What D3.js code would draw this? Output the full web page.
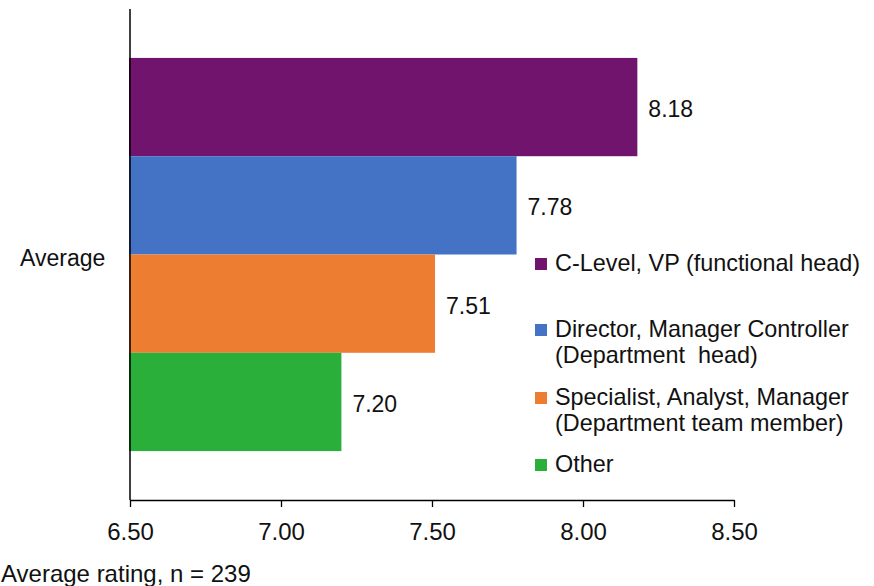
<!DOCTYPE html>
<html>
<head>
<meta charset="utf-8">
<script src="https://cdn.jsdelivr.net/npm/d3@7"></script>
<style>
  html, body { margin: 0; padding: 0; background: #fff; }
  svg text { font-family: "Liberation Sans", Arial, sans-serif; fill: #111; }
</style>
</head>
<body>
<svg id="chart" width="874" height="586"></svg>
<script>
// Average rating by respondent role
const categories = [
  "C-Level, VP (functional head)",
  "Director, Manager Controller (Department  head)",
  "Specialist, Analyst, Manager (Department team member)",
  "Other"
];
const legendLines = [
  ["C-Level, VP (functional head)"],
  ["Director, Manager Controller", "(Department  head)"],
  ["Specialist, Analyst, Manager", "(Department team member)"],
  ["Other"]
];
const values = [8.18, 7.78, 7.51, 7.20];
const colors = ["#70146e", "#4472c4", "#ed7d31", "#2ab03a"];
const tickValues = [6.5, 7.0, 7.5, 8.0, 8.5];
const groupLabel = "Average";
const axisTitle = "Average rating, n = 239";

const FONT = 23;
const svg = d3.select("#chart");

const x = d3.scaleLinear().domain([6.5, 8.5]).range([130, 734]);
const yGroup = d3.scaleBand().domain([groupLabel]).range([9, 500]).paddingInner(0).paddingOuter(0.1);
const y = d3.scaleBand().domain(categories)
  .range([yGroup(groupLabel) + 8, yGroup(groupLabel) + yGroup.bandwidth() + 8 - 16]);

// bars
svg.append("g").selectAll("rect")
  .data(categories)
  .join("rect")
  .attr("x", x(6.5) - 1)
  .attr("y", d => y(d))
  .attr("width", (d, i) => x(values[i]) - x(6.5) + 1)
  .attr("height", y.bandwidth())
  .attr("fill", (d, i) => colors[i]);

// value labels
svg.append("g").selectAll("text")
  .data(categories)
  .join("text")
  .attr("x", (d, i) => x(values[i]) + 11)
  .attr("y", d => y(d) + y.bandwidth() / 2 + 10)
  .attr("font-size", FONT)
  .text((d, i) => values[i].toFixed(2));

// x axis
const xAxis = d3.axisBottom(x)
  .tickValues(tickValues)
  .tickFormat(d3.format(".2f"))
  .tickSize(7)
  .tickSizeOuter(0);
const gx = svg.append("g").attr("transform", "translate(0,500)").call(xAxis);
gx.select(".domain").attr("stroke", "#000").attr("stroke-width", 1.3);
gx.selectAll(".tick line").attr("stroke", "#000").attr("stroke-width", 1.3);
gx.selectAll(".tick text")
  .attr("font-size", 24)
  .attr("font-family", "Liberation Sans, Arial, sans-serif")
  .attr("fill", "#111")
  .attr("dy", null)
  .attr("y", 40);

// y axis line
svg.append("line")
  .attr("x1", x(6.5)).attr("x2", x(6.5))
  .attr("y1", 9).attr("y2", 500)
  .attr("stroke", "#000").attr("stroke-width", 1.5);

// category label
svg.append("text")
  .attr("x", 20)
  .attr("y", yGroup(groupLabel) + yGroup.bandwidth() / 2 + 11)
  .attr("font-size", FONT)
  .text(groupLabel);

// axis title
svg.append("text")
  .attr("x", 1)
  .attr("y", 582)
  .attr("font-size", 24)
  .text(axisTitle);

// legend
const legendY = [271, 337, 405, 472];
const legend = svg.append("g");
legendLines.forEach((lines, i) => {
  legend.append("rect")
    .attr("x", 535).attr("y", legendY[i] - 13)
    .attr("width", 12).attr("height", 12)
    .attr("fill", colors[i]);
  lines.forEach((t, j) => {
    legend.append("text")
      .attr("x", 555)
      .attr("y", legendY[i] + j * 26)
      .attr("font-size", 23.4)
      .attr("xml:space", "preserve")
      .style("white-space", "pre")
      .text(t);
  });
});
</script>
</body>
</html>
